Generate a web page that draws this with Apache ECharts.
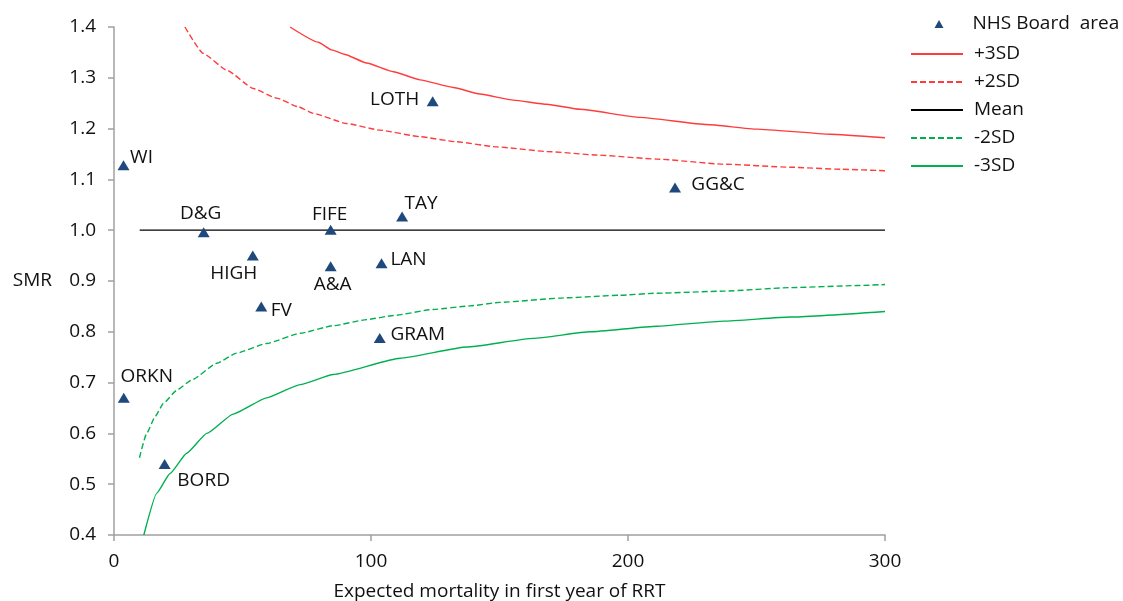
<!DOCTYPE html>
<html>
<head>
<meta charset="utf-8">
<script src="https://cdn.jsdelivr.net/npm/echarts@6/dist/echarts.min.js"></script>
<style>html,body{margin:0;padding:0;background:#fff}#c{width:1123px;height:601px}</style>
</head>
<body>
<div id="c"></div>
<script>
// ---- data ----
var boardNames = ['WI','ORKN','BORD','D&G','HIGH','FV','FIFE','A&A','LAN','GRAM','TAY','LOTH','GG&C'];
var boardExpected = [3.7, 3.8, 19.7, 34.9, 54.0, 57.3, 84.3, 84.3, 104.1, 103.4, 112.1, 124.0, 218.3];
var boardSMR = [1.128, 0.670, 0.540, 0.996, 0.950, 0.850, 1.001, 0.929, 0.935, 0.788, 1.027, 1.254, 1.084];

var plus3X = [68.5, 79.5, 84.7, 89.9, 98.3, 108.7, 119.1, 132.0, 142.4, 155.4, 168.4, 181.3, 204.7, 230.7, 250.2, 278.7, 300];
var plus3Y = [1.400, 1.370, 1.355, 1.346, 1.329, 1.312, 1.296, 1.281, 1.268, 1.256, 1.248, 1.238, 1.222, 1.208, 1.199, 1.189, 1.182];

var plus2X = [27.6, 34.7, 43.9, 54.2, 63.3, 71.7, 77.5, 90.5, 103.5, 119.1, 133.3, 148.9, 168.4, 187.8, 211.2, 237.2, 263.1, 282.6, 300];
var plus2Y = [1.400, 1.348, 1.315, 1.279, 1.260, 1.243, 1.230, 1.210, 1.197, 1.184, 1.174, 1.164, 1.155, 1.148, 1.140, 1.130, 1.124, 1.120, 1.117];

var meanX = [10, 300];
var meanY = [1.0, 1.0];

var minus2X = [9.9, 12.7, 16.0, 19.2, 24.4, 30.2, 40.0, 47.7, 59.4, 72.4, 85.3, 98.3, 108.7, 124.2, 138.5, 150.2, 176.1, 196.9, 211.2, 237.2, 263.1, 289.1, 300];
var minus2Y = [0.552, 0.600, 0.633, 0.659, 0.685, 0.705, 0.738, 0.758, 0.777, 0.797, 0.812, 0.824, 0.832, 0.844, 0.851, 0.858, 0.867, 0.872, 0.876, 0.880, 0.887, 0.891, 0.893];

var minus3X = [11.6, 16.6, 21.8, 28.3, 36.1, 46.4, 59.4, 72.4, 85.3, 111.3, 137.2, 163.2, 185.2, 211.2, 237.2, 263.1, 300];
var minus3Y = [0.400, 0.482, 0.521, 0.561, 0.600, 0.638, 0.670, 0.696, 0.716, 0.748, 0.770, 0.787, 0.800, 0.811, 0.821, 0.829, 0.840];

var xTicks = [0, 100, 200, 300];
var yTicks = [0.4, 0.5, 0.6, 0.7, 0.8, 0.9, 1.0, 1.1, 1.2, 1.3, 1.4];

// ---- label placement (style, not data) ----
var labelOffsets = {
  'WI': [18, -8], 'ORKN': [23, -21], 'BORD': [39, 17], 'D&G': [-3, -19],
  'HIGH': [-19, 18], 'FV': [20, 4], 'FIFE': [-1, -15], 'A&A': [2, 18],
  'LAN': [27, -4], 'GRAM': [38, -3], 'TAY': [19, -13], 'LOTH': [-38, -2], 'GG&C': [43, -3]
};

function zip(xs, ys) { return xs.map(function (x, i) { return [x, ys[i]]; }); }

var FONT = '"Open Sans"';
var FS = 19;
var TXT = '#111';

var points = boardNames.map(function (n, i) {
  return {
    name: n,
    value: [boardExpected[i], boardSMR[i]],
    label: { show: true, formatter: n, position: 'inside', offset: labelOffsets[n],
             align: 'center', verticalAlign: 'middle', color: TXT, fontSize: FS, fontFamily: FONT }
  };
});

var red = '#FF3B3B', green = '#00B050';
var DASH = [6, 3];

var chart = echarts.init(document.getElementById('c'), null, { renderer: 'canvas' });
chart.setOption({
  animation: false,
  backgroundColor: '#fff',
  grid: { left: 114, right: 238, top: 27, bottom: 66, containLabel: false, outerBoundsMode: 'none' },
  legend: [
    {
      data: ['NHS Board  area'], orient: 'vertical', left: 934.5, top: 14, padding: 0,
      itemWidth: 9, itemHeight: 8, selectedMode: false,
      textStyle: { color: TXT, fontSize: FS, fontFamily: FONT, lineHeight: 20, padding: [0, 0, 0, 24] }
    },
    {
      data: ['+3SD', '+2SD', 'Mean', '-2SD', '-3SD'], orient: 'vertical', left: 910, top: 44, padding: 0,
      itemWidth: 52, itemHeight: 14, itemGap: 8, selectedMode: false,
      itemStyle: { opacity: 0 },
      textStyle: { color: TXT, fontSize: FS, fontFamily: FONT, lineHeight: 20, padding: [0, 0, 0, 6] }
    }
  ],
  xAxis: {
    type: 'value', min: 0, max: 300, interval: 100,
    name: 'Expected mortality in first year of RRT', nameLocation: 'middle', nameGap: 47,
    nameTextStyle: { color: TXT, fontSize: FS, fontFamily: FONT },
    axisLine: { show: true, lineStyle: { color: '#A0A0A0', width: 1.5 } },
    axisTick: { show: true, length: 6, lineStyle: { color: '#A0A0A0', width: 1.5 } },
    splitLine: { show: false },
    axisLabel: { color: TXT, fontSize: FS, fontFamily: FONT, margin: 17,
      formatter: function (v) { return xTicks.indexOf(v) >= 0 ? String(v) : ''; } }
  },
  yAxis: {
    type: 'value', min: 0.4, max: 1.4, interval: 0.1,
    name: 'SMR', nameLocation: 'middle', nameRotate: 0, nameGap: 62,
    nameTextStyle: { color: TXT, fontSize: FS, fontFamily: FONT },
    axisLine: { show: true, lineStyle: { color: '#A0A0A0', width: 1.5 } },
    axisTick: { show: true, length: 6, lineStyle: { color: '#A0A0A0', width: 1.5 } },
    splitLine: { show: false },
    axisLabel: { color: TXT, fontSize: FS, fontFamily: FONT, margin: 18,
      formatter: function (v) {
        var r = Math.round(v * 10) / 10;
        return yTicks.indexOf(r) >= 0 ? r.toFixed(1) : '';
      } }
  },
  series: [
    {
      name: 'NHS Board  area', type: 'scatter', symbol: 'triangle', symbolSize: [12, 10],
      itemStyle: { color: '#1F497D', opacity: 1 }, data: points, z: 5
    },
    {
      name: '+3SD', type: 'line', data: zip(plus3X, plus3Y), symbol: 'none', smooth: 0.15, smoothMonotone: 'x',
      lineStyle: { color: red, width: 1.4, type: 'solid' }, itemStyle: { color: red }
    },
    {
      name: '+2SD', type: 'line', data: zip(plus2X, plus2Y), symbol: 'none', smooth: 0.15, smoothMonotone: 'x',
      lineStyle: { color: red, width: 1.4, type: DASH }, itemStyle: { color: red }
    },
    {
      name: 'Mean', type: 'line', data: zip(meanX, meanY), symbol: 'none',
      lineStyle: { color: '#000', width: 1.2, type: 'solid' }, itemStyle: { color: '#000' }
    },
    {
      name: '-2SD', type: 'line', data: zip(minus2X, minus2Y), symbol: 'none', smooth: 0.15, smoothMonotone: 'x',
      lineStyle: { color: green, width: 1.4, type: DASH }, itemStyle: { color: green }
    },
    {
      name: '-3SD', type: 'line', data: zip(minus3X, minus3Y), symbol: 'none', smooth: 0.15, smoothMonotone: 'x',
      lineStyle: { color: green, width: 1.4, type: 'solid' }, itemStyle: { color: green }
    }
  ]
});
</script>
</body>
</html>
